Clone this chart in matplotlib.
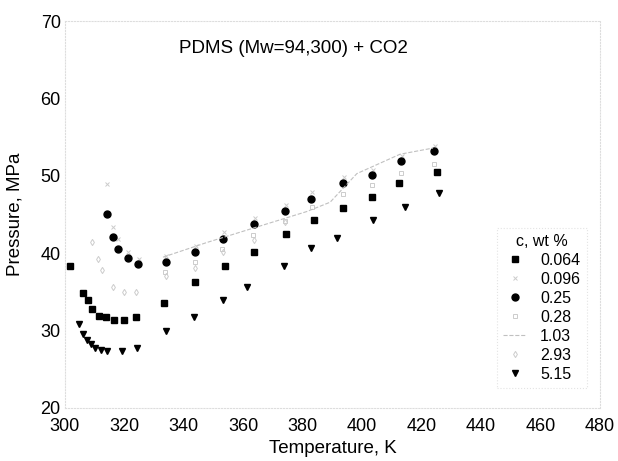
import numpy as np
import matplotlib
matplotlib.use("Agg")
import matplotlib.pyplot as plt

plt.rcParams['font.family'] = ['Liberation Sans', 'DejaVu Sans']

# c = 0.064 wt %  (black squares)
t_064 = [301.7, 306.1, 307.7, 309.1, 311.4, 313.8, 316.5, 319.9, 323.9,
         333.3, 343.7, 353.8, 363.6, 374.4, 383.8, 393.5, 403.3, 412.4, 425.2]
p_064 = [38.3, 34.9, 33.9, 32.8, 31.9, 31.7, 31.4, 31.4, 31.8,
         33.6, 36.3, 38.3, 40.1, 42.5, 44.3, 45.9, 47.3, 49.1, 50.5]

# c = 0.096 wt %  (grey, faint)
t_096 = [314.0, 316.2, 318.0, 321.2, 324.8, 334.0, 344.0, 353.4, 364.0, 374.2, 383.0, 393.8, 403.5, 413.3, 424.4]
p_096 = [48.9, 43.4, 41.9, 40.2, 39.3, 39.7, 41.0, 42.8, 44.6, 46.3, 47.9, 49.8, 50.8, 52.6, 53.9]

# c = 0.25 wt %  (black circles)
t_25 = [314.1, 316.2, 317.8, 321.2, 324.6, 334.0, 343.7, 353.2, 363.6,
        374.0, 382.8, 393.5, 403.3, 413.1, 424.2]
p_25 = [45.1, 42.1, 40.6, 39.4, 38.6, 38.9, 40.2, 41.9, 43.8,
        45.5, 47.0, 49.1, 50.1, 51.9, 53.2]

# c = 0.28 wt %  (grey, faint)
t_28 = [333.8, 343.6, 353.0, 363.4, 374.0, 383.0, 393.6, 403.4, 413.2, 424.0]
p_28 = [37.6, 38.9, 40.6, 42.4, 44.2, 46.0, 47.6, 48.8, 50.4, 51.5]

# c = 1.03 wt %  (grey dashed)
t_103 = [333.0, 347.8, 381.4, 389.2, 398.2, 412.7, 423.8]
p_103 = [39.5, 41.4, 45.4, 46.6, 50.3, 52.8, 53.6]

# c = 2.93 wt %  (grey, faint)
t_293 = [309.0, 311.0, 312.4, 316.2, 320.0, 324.0, 334.0, 343.7, 353.2,
         363.6, 374.0]
p_293 = [41.4, 39.2, 37.9, 35.7, 35.0, 35.0, 37.0, 38.1, 40.2, 41.7, 44.1]

# c = 5.15 wt %  (black triangles)
t_515 = [304.7, 306.1, 307.4, 308.7, 310.1, 312.1, 314.1, 319.2, 324.2,
         334.0, 343.4, 353.2, 361.2, 373.7, 382.8, 391.5, 403.6, 414.4, 425.8]
p_515 = [30.8, 29.5, 28.8, 28.3, 27.7, 27.5, 27.4, 27.4, 27.7,
         29.9, 31.8, 33.9, 35.7, 38.3, 40.7, 42.0, 44.3, 46.0, 47.8]

fig = plt.figure(figsize=(6.18, 4.61), dpi=100)
ax = fig.add_axes([0.105, 0.115, 0.866, 0.839])

grey = '#cccccc'
ax.plot(t_064, p_064, 's', color='black', ms=4.2, label='0.064')
ax.plot(t_096, p_096, 'x', color=grey, ms=3.5, mew=0.7, label='0.096')
ax.plot(t_25, p_25, 'o', color='black', ms=5.0, label='0.25')
ax.plot(t_28, p_28, 's', color=grey, mfc='none', ms=3.5, mew=0.7, label='0.28')
ax.plot(t_103, p_103, '--', color='#c0c0c0', lw=0.8, label='1.03')
ax.plot(t_293, p_293, 'd', color=grey, mfc='none', ms=3.2, mew=0.7, label='2.93')
ax.plot(t_515, p_515, 'v', color='black', ms=4.6, label='5.15')

ax.set_xlim(300, 480)
ax.set_ylim(20, 70)
ax.set_xticks(np.arange(300, 481, 20))
ax.set_yticks(np.arange(20, 71, 10))
ax.tick_params(length=0, labelsize=13)
ax.tick_params(axis='y', pad=3)
ax.tick_params(axis='x', pad=7)
for s in ax.spines.values():
    s.set_color('#dddddd')
    s.set_linestyle(':')
    s.set_linewidth(0.8)

ax.set_xlabel('Temperature, K', fontsize=13.5, labelpad=4)
ax.set_ylabel('Pressure, MPa', fontsize=13.5, labelpad=12)
ax.text(376.7, 66.5, 'PDMS (Mw=94,300) + CO2', fontsize=13.5,
        ha='center', va='center')

leg = ax.legend(title='c, wt %', loc='lower right', bbox_to_anchor=(0.99, 0.03),
                fontsize=11.5, title_fontsize=11.5, handlelength=1.4,
                labelspacing=0.25, borderpad=0.4, handletextpad=0.9,
                fancybox=False, edgecolor='#dddddd')
leg.get_frame().set_linestyle(':')
leg.get_frame().set_linewidth(0.8)

fig.savefig('out.png', dpi=100, facecolor='white')
